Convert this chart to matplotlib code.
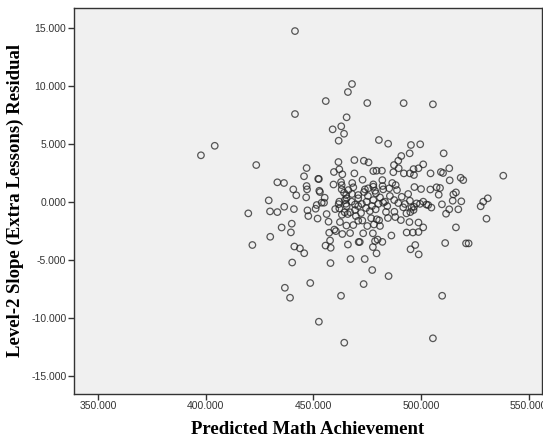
import matplotlib
matplotlib.use("Agg")
import matplotlib.pyplot as plt
from matplotlib.ticker import FormatStrFormatter

# Predicted Math Achievement (x) and Level-2 slope residual (y)
pred_math = [
    441.4, 467.9, 466.0, 455.7, 475.0, 491.9, 505.5, 441.4, 465.4, 458.9,
    462.9, 464.2, 461.7, 480.4, 484.7, 495.3, 499.6, 404.1, 397.7, 423.4,
    494.7, 510.5, 490.8, 489.4, 469.0, 473.4, 475.6, 461.6, 501.0, 487.4,
    513.1, 446.8, 489.6, 498.8, 496.5, 459.5, 462.0, 463.4, 469.0, 477.8,
    479.3, 481.8, 487.1, 492.0, 494.8, 496.7, 504.4, 509.2, 510.2, 538.2,
    518.4, 519.6, 513.3, 445.6, 452.2, 433.2, 436.3, 459.3, 462.8, 468.0,
    472.8, 482.0, 477.8, 486.6, 488.2, 446.8, 447.0, 440.6, 452.7, 496.9,
    500.0, 504.3, 507.2, 508.8, 508.2, 515.0, 516.2, 514.7, 518.7, 531.0,
    528.9, 527.7, 509.7, 513.1, 517.3, 511.6, 530.4, 516.2, 520.9, 522.1,
    511.2, 509.8, 505.5, 442.0, 446.6, 455.2, 429.2, 453.8, 436.4, 440.9,
    429.8, 433.2, 447.2, 451.0, 419.7, 447.6, 451.9, 456.1, 460.1, 461.7,
    465.1, 465.2, 435.2, 439.9, 457.0, 462.3, 465.3, 468.5, 439.5, 429.9,
    421.6, 441.1, 443.7, 445.7, 440.1, 448.5, 436.7, 439.1, 452.5, 464.3,
    462.8, 467.2, 457.9, 455.6, 458.0, 457.7, 466.0, 457.3, 459.7, 460.4,
    463.4, 467.0, 471.0, 463.2, 465.9, 469.3, 470.8, 473.3, 484.9, 477.3,
    473.8, 479.3, 477.6, 478.6, 479.8, 482.0, 471.5, 473.1, 477.6, 486.2,
    493.3, 496.2, 498.8, 501.0, 494.6, 498.8, 497.3, 495.1, 498.9, 472.7,
    476.8, 480.5, 479.4, 475.0, 478.1, 480.9, 488.0, 487.6, 493.2, 495.0,
    496.5, 496.7, 499.5, 502.5, 504.8, 490.6, 491.0, 494.0, 487.5, 489.4,
    491.7, 495.6, 492.5, 494.8, 497.9, 501.0, 503.3, 479.0, 480.9, 482.4,
    484.3, 478.9, 476.2, 470.8, 470.8, 465.4, 485.2, 482.1, 477.8, 475.4,
    468.5, 463.1, 466.2, 473.9, 478.6, 482.4, 464.6, 467.7, 474.7, 477.8,
    480.1, 483.2, 470.8, 465.4, 464.5, 467.0, 452.5, 453.0, 454.9, 462.0,
    464.2, 463.1, 462.0, 451.5, 472.5, 474.4, 469.3, 472.1, 475.3, 467.9,
    477.2, 469.7, 473.5, 483.7, 485.5, 488.8, 484.6,
]
slope_resid = [
    14.74, 10.17, 9.48, 8.70, 8.53, 8.52, 8.42, 7.58, 7.30, 6.26,
    6.52, 5.88, 5.28, 5.34, 5.02, 4.91, 4.97, 4.84, 4.02, 3.18,
    4.19, 4.19, 3.96, 3.55, 3.61, 3.55, 3.41, 3.44, 3.24, 3.18,
    2.90, 2.92, 2.90, 2.90, 2.83, 2.58, 2.81, 2.38, 2.46, 2.66,
    2.69, 2.69, 2.56, 2.46, 2.46, 2.32, 2.46, 2.58, 2.49, 2.26,
    2.08, 1.88, 1.86, 2.21, 1.99, 1.69, 1.63, 1.50, 1.71, 1.63,
    1.91, 1.88, 1.51, 1.63, 1.45, 1.37, 1.08, 1.08, 0.96, 1.28,
    1.11, 1.07, 1.26, 1.20, 0.62, 0.65, 0.82, 0.10, 0.05, 0.31,
    0.02, -0.38, -0.21, -0.64, -0.64, -1.02, -1.45, -2.20, -3.58, -3.58,
    -3.55, -8.10, -11.77, 0.57, 0.39, 0.36, 0.13, -0.07, -0.42, -0.62,
    -0.82, -0.88, -0.73, -0.59, -0.99, -1.22, -1.44, -1.05, -0.62, -0.19,
    -0.16, 0.59, -2.21, -1.88, -1.71, -1.74, -2.04, -2.00, -2.63, -3.01,
    -3.72, -3.85, -4.01, -4.43, -5.23, -7.00, -7.41, -8.27, -10.34, -12.15,
    -8.10, -4.93, -5.28, -3.77, -3.96, -3.33, -3.68, -2.66, -2.39, -2.52,
    -2.77, -2.69, -3.46, -1.11, -1.05, -0.23, -1.63, -7.09, -6.40, -5.88,
    -4.93, -4.44, -3.90, -3.38, -3.25, -3.45, -3.46, -2.71, -2.71, -2.90,
    -2.64, -2.64, -2.60, -2.20, -1.74, -1.78, -3.72, -4.09, -4.53, -1.61,
    -1.41, -1.59, -1.50, -2.08, -1.95, -2.08, -1.31, -0.85, -0.99, -0.88,
    -0.70, -0.42, -0.17, -0.23, -0.49, -1.57, 0.44, 0.68, 0.16, -0.10,
    -0.47, -0.50, -0.18, 0.10, -0.13, 0.02, -0.27, 0.74, 0.39, -0.07,
    -0.36, -0.64, -0.79, 0.59, 0.31, 0.31, 1.17, 1.37, 1.31, 1.17,
    1.26, 1.08, 1.02, 1.08, 0.96, 1.08, 0.16, 0.02, 0.02, 0.16,
    -0.18, 0.02, -0.36, -0.36, -0.90, -0.90, 1.97, 0.85, -0.07, 0.02,
    0.79, 1.45, -0.56, -0.27, -0.18, -0.53, -0.70, -0.96, 0.51, 0.68,
    -0.36, -1.22, 0.85, -0.87, 0.51, 1.02, -1.39,
]

x_ticks = [350, 400, 450, 500, 550]
y_ticks = [-15, -10, -5, 0, 5, 10, 15]

fig = plt.figure(figsize=(5.43, 4.42), dpi=100)
ax = fig.add_axes([74 / 543, 1 - 393.7 / 442, (542 - 74) / 543, (393.7 - 8) / 442])
ax.set_facecolor("#f0f0f0")

ax.scatter(pred_math, slope_resid, s=22, facecolors="none",
           edgecolors="#222222", linewidths=0.9, alpha=0.75)

ax.set_xlim(338.7, 556.2)
ax.set_ylim(-16.55, 16.73)
ax.set_xticks(x_ticks)
ax.set_yticks(y_ticks)
ax.xaxis.set_major_formatter(FormatStrFormatter("%.3f"))
ax.yaxis.set_major_formatter(FormatStrFormatter("%.3f"))

for sp in ax.spines.values():
    sp.set_color("#333333")
    sp.set_linewidth(1.0)

ax.tick_params(axis="both", direction="out", length=4, width=1,
               color="#333333", labelcolor="#333333", labelsize=7.5,
               labelfontfamily="Liberation Sans", pad=1.5)

ax.set_xlabel("Predicted Math Achievement", fontfamily="Liberation Serif",
              fontweight="bold", fontsize=13.5, labelpad=7)
ax.set_ylabel("Level-2 Slope (Extra Lessons) Residual",
              fontfamily="Liberation Serif", fontweight="bold", fontsize=13.5,
              labelpad=5)

fig.savefig("out.png", dpi=100, facecolor="white")
